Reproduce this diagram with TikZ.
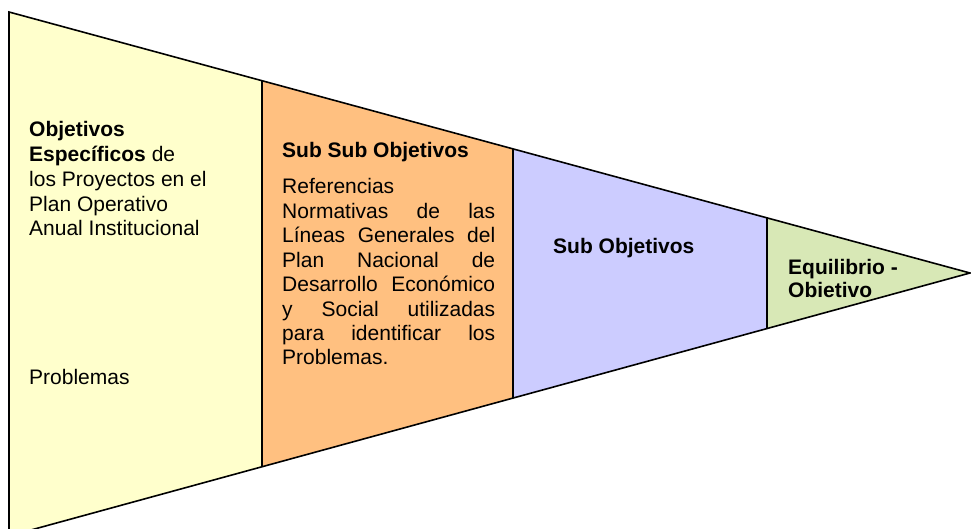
\documentclass[tikz,border=0pt]{standalone}
\usepackage{fontspec}
\setmainfont{Liberation Sans}
\usetikzlibrary{calc}
\definecolor{segyellow}{RGB}{255,255,204}
\definecolor{segorange}{RGB}{255,192,128}
\definecolor{segblue}{RGB}{204,204,255}
\definecolor{seggreen}{RGB}{216,232,182}
\begin{document}
\begin{tikzpicture}[x=1pt,y=-1pt,
  outline/.style={draw=black,line width=1.6pt,line join=miter},
  lbl/.style={anchor=base west,inner sep=0pt,font=\fontsize{21}{24.5}\selectfont},
  blbl/.style={lbl,font=\fontsize{21}{24.5}\selectfont\bfseries}]
\useasboundingbox (0,0) rectangle (971,529);
\coordinate (TL) at (9,12);
\coordinate (BL) at (9,536);
\coordinate (TIP) at (970,273);
\coordinate (T1) at ($(TL)!0.2633!(TIP)$);
\coordinate (B1) at ($(BL)!0.2633!(TIP)$);
\coordinate (T2) at ($(TL)!0.5245!(TIP)$);
\coordinate (B2) at ($(BL)!0.5245!(TIP)$);
\coordinate (T3) at ($(TL)!0.7888!(TIP)$);
\coordinate (B3) at ($(BL)!0.7888!(TIP)$);
\begin{scope}
\clip (0,0) rectangle (971,529);
\fill[segyellow] (TL) -- (T1) -- (B1) -- (BL) -- cycle;
\fill[segorange] (T1) -- (T2) -- (B2) -- (B1) -- cycle;
\fill[segblue] (T2) -- (T3) -- (B3) -- (B2) -- cycle;
\fill[seggreen] (T3) -- (TIP) -- (B3) -- cycle;
\draw[outline] (TL) -- (TIP) -- (BL) -- cycle;
\draw[outline] (T1) -- (B1);
\draw[outline] (T2) -- (B2);
\draw[outline] (T3) -- (B3);
\end{scope}
% left segment
\node[blbl] (l1) at (29,136.7) {Objetivos};
\node[lbl] (l2) at (29,161.5) {\textbf{Específicos} de};
\node[lbl] (l3) at (29,186.3) {los Proyectos en el};
\node[lbl] (l4) at (29,211.1) {Plan Operativo};
\node[lbl] (l5) at (29,235.9) {Anual Institucional};
\node[lbl] (l6) at (29,384) {Problemas};
% orange segment
\node[blbl] (o0) at (282,157.3) {Sub Sub Objetivos};
\node[lbl] (o1) at (282,194) {Referencias};
\node[lbl] (o2) at (282,218.4) {\makebox[213pt][s]{Normativas de las}};
\node[lbl] (o3) at (282,242.8) {\makebox[213pt][s]{Líneas Generales del}};
\node[lbl] (o4) at (282,267.2) {\makebox[213pt][s]{Plan Nacional de}};
\node[lbl] (o5) at (282,291.6) {\makebox[213pt][s]{Desarrollo Económico}};
\node[lbl] (o6) at (282,316.0) {\makebox[213pt][s]{y Social utilizadas}};
\node[lbl] (o7) at (282,340.4) {\makebox[213pt][s]{para identificar los}};
\node[lbl] (o8) at (282,364.8) {Problemas.};
% blue segment
\node[blbl] (s1) at (553,253.3) {Sub Objetivos};
% green segment
\node[blbl] (g1) at (788,274) {Equilibrio -};
\node[blbl] (g2) at (788,297.5) {Obietivo};
\end{tikzpicture}
\end{document}
